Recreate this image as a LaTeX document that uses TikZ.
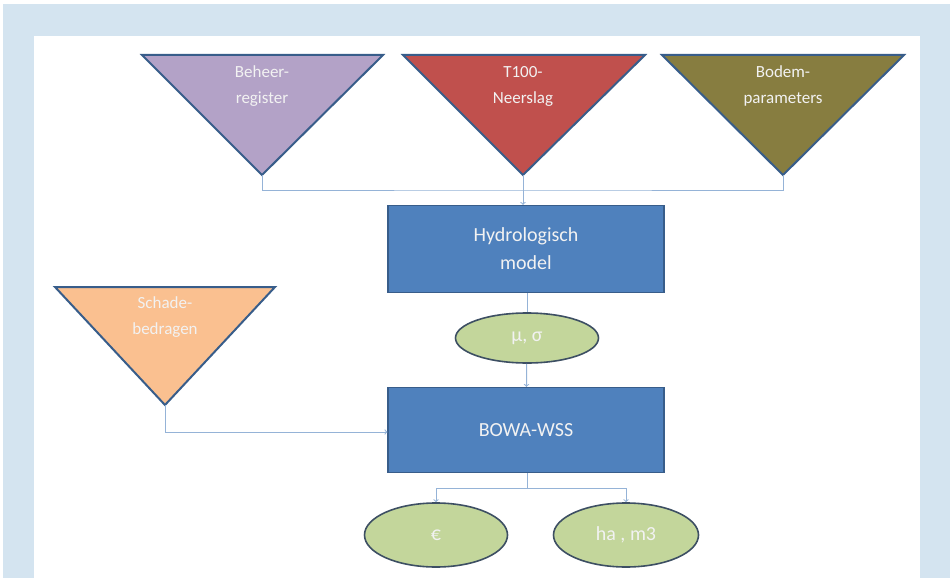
\documentclass[tikz,border=0pt]{standalone}
\usepackage{fontspec}
\setmainfont{Carlito}
\usepackage{tikz}
\usetikzlibrary{shapes.geometric}

\definecolor{panelblue}{HTML}{D4E4F0}
\definecolor{boxblue}{HTML}{4F81BD}
\definecolor{boxedge}{HTML}{385D8A}
\definecolor{linkblue}{HTML}{95B3D7}
\definecolor{trilila}{HTML}{B3A2C7}
\definecolor{trired}{HTML}{C0504D}
\definecolor{triolive}{HTML}{877D40}
\definecolor{triorange}{HTML}{FAC090}
\definecolor{ellgreen}{HTML}{C3D69B}
\definecolor{elledge}{HTML}{3D4F63}
\definecolor{txtlight}{HTML}{F2F2F2}

\begin{document}
\begin{tikzpicture}
  [x=1pt,y=-1pt,
   tri/.style={draw=boxedge,line width=2pt,line join=miter},
   txt/.style={text=txtlight,font=\fontsize{17}{26}\selectfont,align=center},
   model/.style={rectangle,draw=boxedge,line width=1.2pt,fill=boxblue,minimum width=276pt,minimum height=87pt,text=txtlight,font=\fontsize{20}{28}\selectfont,align=center},
   output/.style={ellipse,draw=elledge,line width=1.6pt,fill=ellgreen,minimum width=143pt,minimum height=50pt,inner sep=0pt,text=txtlight,font=\fontsize{20}{24}\selectfont},
   link/.style={draw=linkblue,line width=1pt},
   every edge/.style={link,->}]

  \useasboundingbox (0,0) rectangle (950,578);
  \fill[panelblue] (3,4) rectangle (950,578);
  \fill[white] (34,36) rectangle (920,578);

  % input triangles
  \filldraw[tri,fill=trilila] (142,55) -- (383,55) -- (262,175) -- cycle;
  \filldraw[tri,fill=trired] (403,55) -- (645,55) -- (523,175) -- cycle;
  \filldraw[tri,fill=triolive] (662,55) -- (904,55) -- (783,175) -- cycle;
  \filldraw[tri,fill=triorange] (55,287) -- (275,287) -- (165,405) -- cycle;
  \coordinate (beheer) at (262,175);
  \coordinate (neerslag) at (523,175);
  \coordinate (bodem) at (783,175);
  \coordinate (schade) at (165,405);
  \node[txt] (beheertxt) at (262,86) {Beheer-\\register};
  \node[txt] (neerslagtxt) at (523,86) {T100-\\Neerslag};
  \node[txt] (bodemtxt) at (783,86) {Bodem-\\parameters};
  \node[txt] (schadetxt) at (165,317) {Schade-\\bedragen};

  % model boxes and outputs
  \node[model] (hydro) at (526,249) {Hydrologisch\\model};
  \node[output] (musigma) at (527,338) {μ, σ};
  \node[model,minimum height=85pt] (bowa) at (526,430) {BOWA-WSS};
  \node[output,minimum height=64pt] (euro) at (436,535) {€};
  \node[output,minimum height=64pt,minimum width=145pt] (hectare) at (626,535) {ha , m3};

  \coordinate (top) at (523,190);
  \coordinate (split) at (527,488);
  \coordinate (splitl) at (436,488);
  \coordinate (splitr) at (626,488);

  \draw[link] (beheer) |- (top) -| (bodem);
  \draw (neerslag) edge (hydro.north -| neerslag);
  \draw[link] (hydro.south -| musigma) -- (musigma);
  \draw (musigma) edge (bowa);
  \draw[link,->] (schade) |- (bowa.west |- 0,432);
  \draw[link] (bowa.south -| split) -- (split);
  \draw[link] (splitl) -- (splitr);
  \foreach \from/\to in {splitl/euro,splitr/hectare}
    \draw (\from) edge (\to);
\end{tikzpicture}
\end{document}
